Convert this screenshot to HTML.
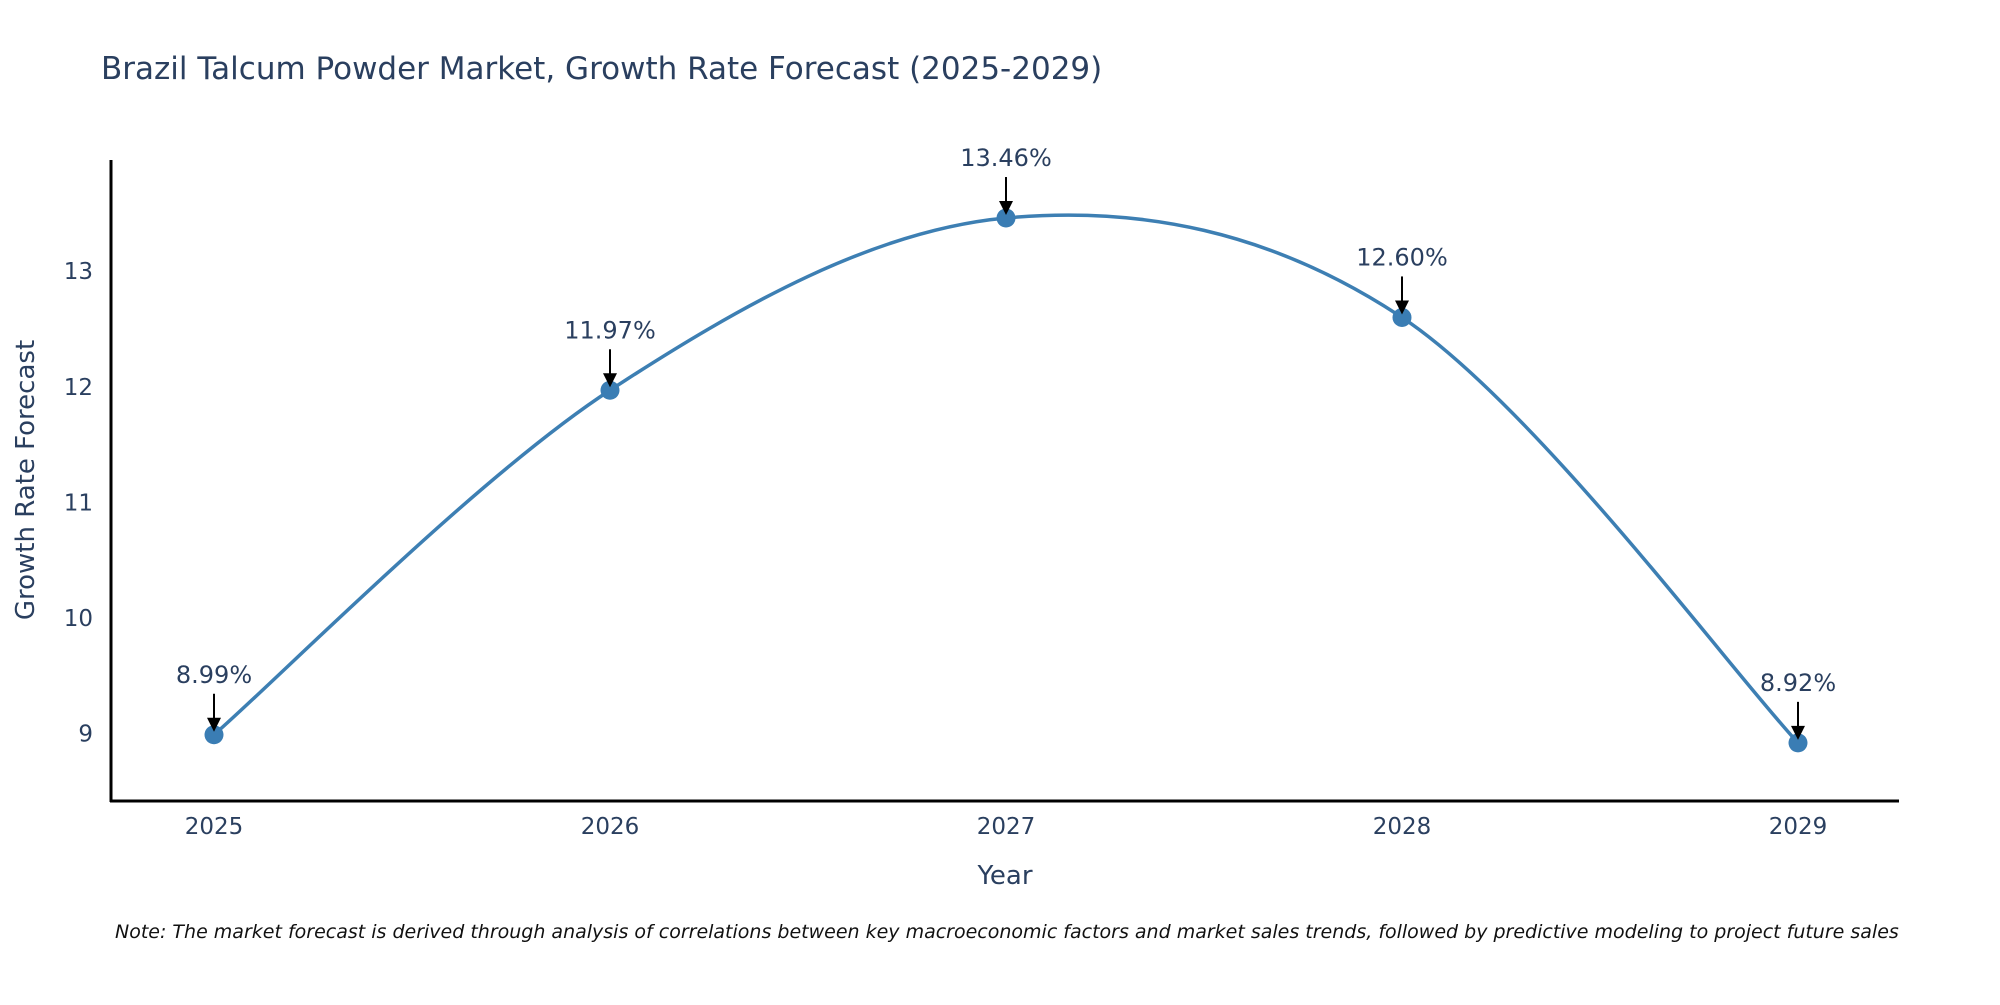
<!DOCTYPE html>
<html><head><meta charset="utf-8"><style>
body{margin:0;background:#fff;}
svg text{font-family:"DejaVu Sans","Liberation Sans",sans-serif;fill:#2a3f5f;}
</style></head><body>
<svg id="chart" width="2000" height="1000" viewBox="0 0 2000 1000">
<text x="101" y="79" font-size="31">Brazil Talcum Powder Market, Growth Rate Forecast (2025-2029)</text>
<g id="yticks"></g>
<g id="xticks"></g>
<line x1="111" y1="160" x2="111" y2="802" stroke="#000" stroke-width="3"/>
<line x1="110" y1="801" x2="1899" y2="801" stroke="#000" stroke-width="3"/>
<text transform="translate(34,480) rotate(-90)" text-anchor="middle" font-size="26">Growth Rate Forecast</text>
<text x="1005" y="884" text-anchor="middle" font-size="26">Year</text>
<g id="series"></g>
<text x="115" y="938" font-size="19" font-style="italic" style="fill:#111">Note: The market forecast is derived through analysis of correlations between key macroeconomic factors and market sales trends, followed by predictive modeling to project future sales</text>
</svg>
<script>
const years = [2025, 2026, 2027, 2028, 2029];
const growth = [8.99, 11.97, 13.46, 12.60, 8.92];
const yTicks = [9, 10, 11, 12, 13];
const NS = "http://www.w3.org/2000/svg";
function xs(i){ return 214 + (i) * 396; }
function ys(v){ return 733.6 - (v - 9) * 115.6; }
function mk(tag, attrs, parent){ const e=document.createElementNS(NS,tag); for(const k in attrs) e.setAttribute(k,attrs[k]); parent.appendChild(e); return e; }
const yt=document.getElementById('yticks');
yTicks.forEach(t=>{
  const e=mk('text',{x:93,y:ys(t)+8,'text-anchor':'end','font-size':23},yt);
  
  
  e.textContent=t;
});
const xt=document.getElementById('xticks');
years.forEach((y,i)=>{
  const e=mk('text',{x:xs(i),y:834,'text-anchor':'middle','font-size':23},xt);
  
  
  e.textContent=y;
});
const g=document.getElementById('series');
const P=growth.map((v,i)=>[xs(i),ys(v)]);
let d=`M${P[0][0]},${P[0][1]}`;
for(let i=0;i<P.length-1;i++){
  const p0=P[Math.max(0,i-1)],p1=P[i],p2=P[i+1],p3=P[Math.min(P.length-1,i+2)];
  const c1=[p1[0]+(p2[0]-p0[0])/6,p1[1]+(p2[1]-p0[1])/6];
  const c2=[p2[0]-(p3[0]-p1[0])/6,p2[1]-(p3[1]-p1[1])/6];
  d+=` C${c1[0]},${c1[1]} ${c2[0]},${c2[1]} ${p2[0]},${p2[1]}`;
}
const line=mk('path',{d:d,fill:'none',stroke:'#3d7fb3','stroke-width':3.5},g);


P.forEach((p,i)=>{
  const c=mk('circle',{cx:p[0],cy:p[1],r:9.5,fill:'#3a7db4'},g);
  
  
  const a=mk('line',{x1:p[0],y1:p[1]-41,x2:p[0],y2:p[1]-14,stroke:'#000','stroke-width':2},g);
  
  
  const h=mk('polygon',{points:`${p[0]-7},${p[1]-17} ${p[0]+7},${p[1]-17} ${p[0]},${p[1]-3}`,fill:'#000'},g);
  
  
  const t=mk('text',{x:p[0],y:p[1]-52,'text-anchor':'middle','font-size':24},g);
  
  
  t.textContent=growth[i].toFixed(2)+'%';
});
</script>
</body></html>
